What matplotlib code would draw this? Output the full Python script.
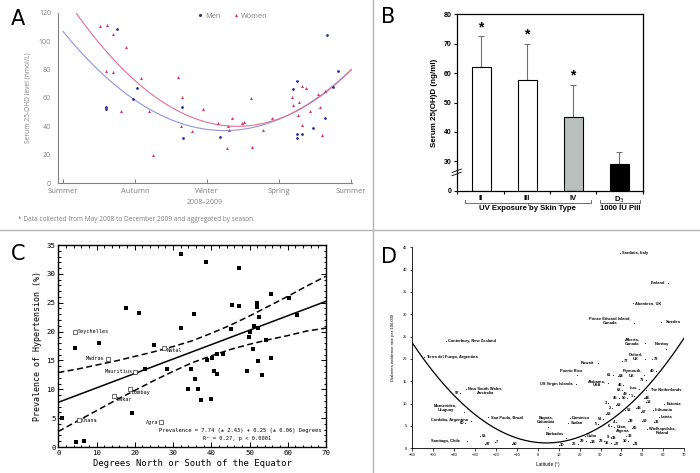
import numpy as np
import matplotlib
matplotlib.use('Agg')
import matplotlib.pyplot as plt
from matplotlib.lines import Line2D
import matplotlib.transforms as mtransforms

# ---------------- Panel A data ----------------
A_seasons = ['Summer', 'Autumn', 'Winter', 'Spring', 'Summer']
A_men_x = [0.75, 0.59, 0.59, 0.97, 1.02, 1.65, 1.67, 2.18, 3.19, 3.25, 3.25, 3.25, 3.32, 3.47, 3.64, 3.66, 3.74, 3.82]
A_men_y = [108.5, 53.6, 52.0, 59, 67, 53.9, 31.8, 32.7, 66, 72, 34.6, 31.5, 34.8, 38.8, 45.9, 104.5, 68, 79.3]
A_women_x = [0.51, 0.61, 0.69, 0.87, 0.60, 0.69, 0.81, 1.08, 1.19, 1.25, 1.60, 1.65, 1.63, 1.79, 1.94, 2.15,
             2.27, 2.29, 2.30, 2.34, 2.49, 2.51, 2.61, 2.62, 2.78, 2.90, 3.18, 3.19, 3.26, 3.27, 3.31, 3.31,
             3.37, 3.43, 3.54, 3.56, 3.59, 3.64]
A_women_y = [110.6, 111.5, 105.4, 96.2, 79, 78, 50.8, 74, 51, 19.5, 75, 61, 40, 36.7, 52, 42,
             24.5, 40.5, 37.6, 45.9, 42, 42.8, 60, 25.4, 37.6, 45.9, 61, 55, 48.2, 57, 68.2, 41,
             67, 51, 63, 53.6, 33.9, 65]
# quadratic fits: curvature, season of minimum, minimum level
A_men_fit = [13.95, 2.24, 37.0]
A_women_fit = [15.97, 2.42, 40.0]

# ---------------- Panel B data ----------------
B_groups = ['II', 'III', 'IV', 'D$_3$']
B_means = [62, 57.5, 45, 29]
B_sd = [10.5, 12.5, 11, 4]
B_signif = [True, True, True, False]
B_yticks = [30, 40, 50, 60, 70, 80]

# ---------------- Panel C data ----------------
C_x = [0.96, 4.4, 4.7, 6.8, 10.7, 17.6, 19.3, 21.0, 22.8, 24.9, 28.3, 32.1, 32.1, 34.6, 33.9, 35.6, 35.8,
       36.6, 37.3, 38.5, 39.0, 39.8, 40.2, 40.7, 41.4, 41.6, 43.0, 45.2, 45.5, 47.2, 47.3, 49.3, 49.9,
       50.1, 50.8, 51.3, 51.9, 52.0, 52.3, 52.6, 52.3, 53.2, 54.2, 55.5, 55.5, 60.2, 62.3]
C_y = [5.0, 17.1, 0.8, 1.0, 18.0, 24.0, 5.9, 23.2, 13.5, 17.6, 13.6, 20.6, 33.4, 13.5, 10.0, 23.0, 11.7,
       10.0, 8.1, 32.1, 15.0, 8.4, 15.5, 13.1, 12.6, 16.1, 16.2, 20.4, 24.6, 24.5, 31.0, 13.1, 19.1,
       19.9, 17.0, 21.0, 25.0, 24.2, 20.6, 22.5, 14.9, 12.5, 18.6, 26.5, 15.5, 25.9, 22.9]
C_named = ['Seychelles', 'Madras', 'Mauritius', 'Natal', 'Bombay', 'Dakar', 'Ghana', 'Agra']
C_named_x = [4.3, 12.9, 20.1, 27.7, 18.7, 14.6, 5.4, 26.9]
C_named_y = [20.0, 15.3, 13.0, 17.2, 10.0, 8.8, 4.6, 4.3]
C_intercept, C_slope = 7.74, 0.25
C_band_x = [0, 5, 10, 15, 20, 25, 30, 35, 40, 45, 50, 55, 60, 65, 70]
C_band_upper = [12.9, 13.5, 14.2, 14.9, 15.7, 16.5, 17.4, 18.4, 19.7, 21.1, 22.7, 24.4, 26.1, 27.9, 29.6]
C_band_lower = [2.7, 4.5, 6.3, 8.1, 9.8, 11.5, 13.1, 14.6, 15.8, 16.9, 17.8, 18.6, 19.3, 20.1, 20.6]

# ---------------- Panel D data ----------------
D_places = ['Sardinia, Italy', 'Finland', 'Aberdeen, UK', 'Prince Edward Island,\nCanada', 'Sweden',
            'Alberta,\nCanada', 'Norway', 'Oxford,\nUK', 'Kuwait', 'Plymouth,\nUK', 'Puerto Rico',
            'US Virgin Islands', 'Alabama,\nUSA', 'Lux.', 'The Netherlands', 'Estonia', 'Lithuania',
            'Latvia', 'Oran,\nAlgeria', 'Wielkopolska,\nPoland', 'Cuba', 'Barbados', 'Bogota,\nColumbia',
            'Dominica', 'Sudan', 'New South Wales,\nAustralia', 'Montevideo,\nUruguay',
            'Cordoba, Argentina', 'Sao Paulo, Brazil', 'Santiago, Chile', 'Canterbury, New Zealand',
            'Tierra del Fuego, Argentina']
D_place_lat = [39.4, 62.0, 45.6, 46.1, 59.0, 51.1, 61.2, 51.3, 29.0, 50.8, 18.7, 18.3, 33.8, 48.3, 51.8,
               60.1, 55.1, 57.7, 36.2, 52.1, 22.5, 13.4, 4.8, 15.5, 14.7, -34.2, -35.0, -31.7, -23.5,
               -33.6, -43.9, -54.1]
D_place_rate = [43.8, 37.0, 32.5, 28.0, 28.3, 23.5, 22.3, 20.0, 19.1, 16.3, 16.3, 14.5, 14.6, 13.2, 13.0,
                10.0, 8.5, 7.1, 4.8, 4.4, 2.8, 2.2, 4.8, 6.7, 5.7, 13.2, 8.2, 6.1, 6.9, 1.7, 24.1, 20.4]
D_num_labels = ['72', '77', '40', '71', '61', '64', '46', '68', '49', '1', '45', '50', '44', '18', '3', '2',
                '62', '43', '52', '67', '63', '51', '4', '39', '59', '36', '5', '6', '65', '33', '9', '32',
                '23', '10', '16', '27', '31', '29', '34', '26', '30', '60', '97', '80', '52', '97', '7']
D_num_lat = [54.7, 40.4, 56.4, 51.6, 35.8, 38.4, 40.8, 40.3, 43.6, 46.0, 38.7, 42.7, 50.7, 51.5, 33.8, 35.7,
             37.5, 46.9, 41.9, 49.1, 32.7, 31.2, 37.5, 43.2, 49.9, 55.5, 28.9, 35.1, 44.8, 42.4, 34.8, 35.1,
             31.7, 43.2, 34.9, 36.4, 45.6, 22.9, 24.9, 19.1, 10.1, -12.4, -36.9, -34.7, -27.4, -25.1, -20.4]
D_num_rate = [20.1, 19.6, 17.4, 15.4, 16.3, 16.1, 14.2, 13.0, 12.2, 11.8, 11.2, 11.2, 11.3, 10.3, 10.1, 9.0,
              9.6, 9.0, 8.5, 8.1, 7.6, 6.5, 6.0, 6.1, 6.2, 6.0, 5.5, 5.0, 4.5, 2.7, 2.5, 2.2,
              1.6, 1.6, 1.1, 0.9, 0.9, 1.6, 1.3, 0.9, 0.7, 0.9, 12.3, 5.6, 2.8, 1.0, 1.3]
D_fit = [0.00545, 4.25, 1.2]   # curvature, latitude of minimum, minimum rate

# ---------------- label placement (style only) ----------------
D_place_style = [('left', 'center', 1.2, 0), ('right', 'center', -1.7, 0), ('left', 'center', 1.5, 0),
                 ('right', 'center', -2.5, 1.7), ('left', 'center', 3, 0), ('right', 'center', -3.8, 1),
                 ('center', 'bottom', -3, 2.0), ('right', 'center', -1.7, 1.7), ('right', 'center', -3, 0),
                 ('right', 'center', -1.6, 1.5), ('center', 'bottom', -4, 1.5), ('right', 'center', -2.4, 0),
                 ('right', 'center', -1.7, 0), ('right', 'center', -0.8, 0.7), ('left', 'center', 3, 0),
                 ('left', 'center', 2.2, 0), ('left', 'center', 1.5, 0), ('left', 'center', 1.5, 0),
                 ('left', 'top', 1.5, 1.5), ('left', 'top', 1.5, 1.5), ('left', 'center', 1.5, 0),
                 ('right', 'bottom', -1.5, 1.5), ('center', 'bottom', -1.2, 2), ('left', 'center', 1.5, 0),
                 ('left', 'center', 1.5, 0), ('left', 'center', 1.7, -1.2), ('right', 'center', -5, 3),
                 ('right', 'center', -2.2, 0.7), ('left', 'center', 1.5, 0), ('right', 'center', -5, 0),
                 ('left', 'center', 1.5, 0), ('left', 'center', 1.5, 0)]
D_num_side = ['R', 'R', 'L', 'L', 'L', 'R', 'L', 'L', 'L', 'L', 'L', 'L', 'R', 'R', 'L', 'L',
              'R', 'R', 'R', 'R', 'R', 'L', 'L', 'R', 'R', 'R', 'L', 'L', 'R', 'R', 'L', 'R',
              'L', 'L', 'L', 'R', 'R', 'L', 'R', 'L', 'R', 'R', 'L', 'L', 'R', 'R', 'R']
C_named_style = [('left', 'center', 2, 0), ('right', 'center', -2, 0), ('right', 'center', -2, 0),
                 ('left', 'top', 1.5, -0.5), ('left', 'top', 1.5, -0.5), ('left', 'top', 1.5, -0.5),
                 ('left', 'center', 2, 0), ('right', 'center', -2, 0)]

W, H = 700, 473
fig = plt.figure(figsize=(7.0, 4.73), dpi=100)


def box(l, t, r, b):
    return [l / W, 1 - b / H, (r - l) / W, (b - t) / H]


# divider lines
fig.add_artist(Line2D([373 / W, 373 / W], [0, 1], color='#b5b5b5', lw=1.0, transform=fig.transFigure))
fig.add_artist(Line2D([0, 1], [1 - 230 / H, 1 - 230 / H], color='#b5b5b5', lw=1.0, transform=fig.transFigure))

# panel letters
for lab, (px, py) in zip('ABCD', [(17.5, 19), (388.5, 17), (18.5, 254.5), (389, 257)]):
    fig.text(px / W, 1 - py / H, lab, fontsize=15, family='DejaVu Sans', ha='center', va='center')

# ================= Panel A =================
gA = '#808080'
axA = fig.add_axes(box(58, 13, 352, 183))
for fit, col in [(A_men_fit, '#8f95dc'), (A_women_fit, '#e07090')]:
    xs = np.linspace(0, 4, 200)
    axA.plot(xs, fit[0] * (xs - fit[1]) ** 2 + fit[2], color=col, lw=0.8)
axA.plot(A_men_x, A_men_y, 'o', color='#27309a', ms=2.0, mew=0, label='Men')
axA.plot(A_women_x, A_women_y, '^', color='#d43a68', ms=2.2, mew=0, label='Women')
axA.set_xlim(-0.07, 4.01)
axA.set_ylim(0, 120)
axA.set_xticks(range(5))
axA.set_xticklabels(A_seasons, family='Open Sans', fontsize=5.5, color=gA)
axA.set_yticks(range(0, 121, 20))
axA.set_yticklabels([str(v) for v in range(0, 121, 20)], family='Open Sans', fontsize=5, color=gA)
axA.tick_params(axis='x', direction='in', length=3, color=gA, width=0.7, pad=3.5)
axA.tick_params(axis='y', length=0, pad=5)
for s in ['top', 'right']:
    axA.spines[s].set_visible(False)
for s in ['left', 'bottom']:
    axA.spines[s].set_color(gA)
    axA.spines[s].set_linewidth(0.8)
axA.set_xlabel('2008\u20132009', family='Open Sans', fontsize=5, color=gA, labelpad=3)
axA.set_ylabel('Serum 25-OHD level (nmol/L)', family='Open Sans', fontsize=4.8, color=gA, labelpad=5)
leg = axA.legend(loc='center', bbox_to_anchor=((232 - 58) / 294, 1 - 3 / 170), ncol=2, frameon=False,
                 prop={'family': 'Open Sans', 'size': 5.3}, handletextpad=0.2, columnspacing=1.6,
                 markerscale=1.1, handlelength=1.0)
for t in leg.get_texts():
    t.set_color(gA)
fig.text(18 / W, 1 - 219 / H, '* Data collected from May 2008 to December 2009 and aggregated by season.',
         family='Open Sans', fontsize=4.7, color=gA, va='center', ha='left')

# ================= Panel B =================
axB = fig.add_axes(box(456.7, 14.3, 642.7, 190.7))
floor = 20
xB = np.arange(len(B_groups))
bar_fc = ['white', 'white', '#b9bfbd', 'black']
axB.bar(xB, [m - floor for m in B_means], bottom=floor, width=0.41, color=bar_fc, edgecolor='black', lw=0.8,
        zorder=2)
axB.errorbar(xB, B_means, yerr=[np.zeros(len(B_sd)), B_sd], fmt='none', ecolor='#707070', elinewidth=0.8,
             capsize=2.2, capthick=0.8, zorder=1)
for x, m, s, sig in zip(xB, B_means, B_sd, B_signif):
    if sig:
        axB.annotate('*', (x, m + s), xytext=(0, 1.5), textcoords='offset points', ha='center', va='bottom',
                     fontsize=10, fontweight='bold', family='Liberation Sans')
axB.set_xlim(-0.53, 3.51)
axB.set_ylim(floor, 80)
axB.set_yticks([floor] + B_yticks)
axB.set_yticklabels(['0'] + [str(v) for v in B_yticks], fontsize=5, fontweight='bold', family='Liberation Sans')
axB.set_xticks(xB)
axB.set_xticklabels(B_groups, fontsize=5.5, fontweight='bold', family='Liberation Sans')
axB.set_xticks([-0.53, 0.5, 1.5, 2.5, 3.51], minor=True)
axB.tick_params(axis='x', which='major', length=0, pad=3)
axB.tick_params(axis='x', which='minor', length=2.5, width=0.8)
axB.tick_params(axis='y', length=2.5, width=0.8, pad=1.5)
for s in axB.spines.values():
    s.set_linewidth(0.9)
axB.set_ylabel('Serum 25(OH)D (ng/ml)', fontsize=5.8, fontweight='bold', family='Liberation Sans', labelpad=4)
# axis break marks
for dy in (0.0, 0.018):
    axB.add_line(Line2D([-0.025, 0.025], [0.085 + dy, 0.105 + dy], transform=axB.transAxes, color='black',
                        lw=0.6, clip_on=False))
# group brackets
tB = mtransforms.blended_transform_factory(axB.transData, axB.transAxes)
for (x0, x1), lab in [((-0.35, 2.38), 'UV Exposure by Skin Type'), ((2.59, 3.46), '1000 IU Pill')]:
    yb, yt = -0.068, -0.05
    axB.add_line(Line2D([x0, x0, x1, x1], [yt, yb, yb, yt], transform=tB, color='#555555', lw=0.6,
                        clip_on=False))
    xm = (x0 + x1) / 2
    axB.add_line(Line2D([xm, xm], [yb, yb - 0.012], transform=tB, color='#555555', lw=0.6, clip_on=False))
    axB.text(xm, -0.1, lab, transform=tB, ha='center', va='center', fontsize=5.6, fontweight='bold',
             family='Liberation Sans')

# ================= Panel C =================
mono = 'DejaVu Sans Mono'
axC = fig.add_axes(box(58.3, 245, 326, 447))
axC.plot(C_band_x, C_band_upper, color='black', lw=1.1, ls=(0, (4, 2.2)))
axC.plot(C_band_x, C_band_lower, color='black', lw=1.1, ls=(0, (4, 2.2)))
xl = np.array([0, 70])
axC.plot(xl, C_intercept + C_slope * xl, color='black', lw=1.1)
axC.plot(C_x, C_y, 's', color='black', ms=2.6, mew=0)
axC.plot(C_named_x, C_named_y, 's', mfc='white', mec='black', ms=2.6, mew=0.4)
for name, x, y, (ha, va, dx, dy) in zip(C_named, C_named_x, C_named_y, C_named_style):
    axC.annotate(name, (x, y), xytext=(dx, dy), textcoords='offset points', ha=ha, va=va, fontsize=3.7,
                 family=mono)
axC.set_xlim(0, 70)
axC.set_ylim(0, 35)
axC.set_xticks(range(0, 71, 10))
axC.set_xticks(range(0, 71, 2), minor=True)
axC.set_yticks(range(0, 36, 5))
axC.set_yticks(range(0, 36, 1), minor=True)
axC.tick_params(which='both', direction='in', top=True, right=True, width=0.7, labelsize=5.3, pad=2)
axC.tick_params(which='major', length=3.5)
axC.tick_params(which='minor', length=1.8)
for lab in axC.get_xticklabels() + axC.get_yticklabels():
    lab.set_family(mono)
for s in axC.spines.values():
    s.set_linewidth(1.0)
axC.set_xlabel('Degrees North or South of the Equator', family=mono, fontsize=6.4, labelpad=2)
axC.set_ylabel('Prevalence of Hypertension (%)', family=mono, fontsize=6.0, labelpad=3)
axC.text(0.982, 0.083, 'Prevalence = 7.74 (\u00b1 2.43) + 0.25 (\u00b1 0.06) Degrees', transform=axC.transAxes,
         ha='right', va='center', fontsize=3.9, family=mono)
axC.text(0.668, 0.044, 'R\u00b2 = 0.27, p < 0.0001', transform=axC.transAxes, ha='center', va='center',
         fontsize=3.9, family=mono)

# ================= Panel D =================
ar = 'Liberation Sans'
fsD = 2.9
axD = fig.add_axes(box(412, 247.3, 684.3, 448.3))
xs = np.linspace(-60, 70, 300)
axD.plot(xs, D_fit[0] * (xs - D_fit[1]) ** 2 + D_fit[2], color='black', lw=0.9)
axD.plot(D_place_lat, D_place_rate, '.', color='black', ms=1.2, mew=0)
axD.plot(D_num_lat, D_num_rate, '.', color='black', ms=1.2, mew=0)
for name, x, y, (ha, va, dx, dy) in zip(D_places, D_place_lat, D_place_rate, D_place_style):
    axD.annotate(name, (x, y), xytext=(dx, dy), textcoords='offset points', ha=ha, va=va, fontsize=fsD,
                 fontweight='bold', family=ar, multialignment='center', linespacing=1.1)
for lab, x, y, side in zip(D_num_labels, D_num_lat, D_num_rate, D_num_side):
    if side == 'L':
        axD.annotate(lab, (x, y), xytext=(-0.8, 0), textcoords='offset points', ha='right', va='center',
                     fontsize=fsD, fontweight='bold', family=ar)
    else:
        axD.annotate(lab, (x, y), xytext=(0.8, 0), textcoords='offset points', ha='left', va='center',
                     fontsize=fsD, fontweight='bold', family=ar)
axD.set_xlim(-60, 70)
axD.set_ylim(0, 45)
axD.set_xticks(range(-60, 71, 10))
axD.set_yticks(range(0, 46, 5))
axD.tick_params(length=1.8, width=0.5, labelsize=2.9, pad=1.5)
for lab in axD.get_xticklabels() + axD.get_yticklabels():
    lab.set_family(ar)
for s in ['top', 'right']:
    axD.spines[s].set_visible(False)
for s in ['left', 'bottom']:
    axD.spines[s].set_linewidth(0.6)
axD.set_xlabel('Latitude (\u00b0)', fontsize=3.4, family=ar, labelpad=4)
axD.set_ylabel('Diabetes incidence rate per 100,000', fontsize=3.1, family=ar, labelpad=6)

fig.savefig('out.png', dpi=100)
